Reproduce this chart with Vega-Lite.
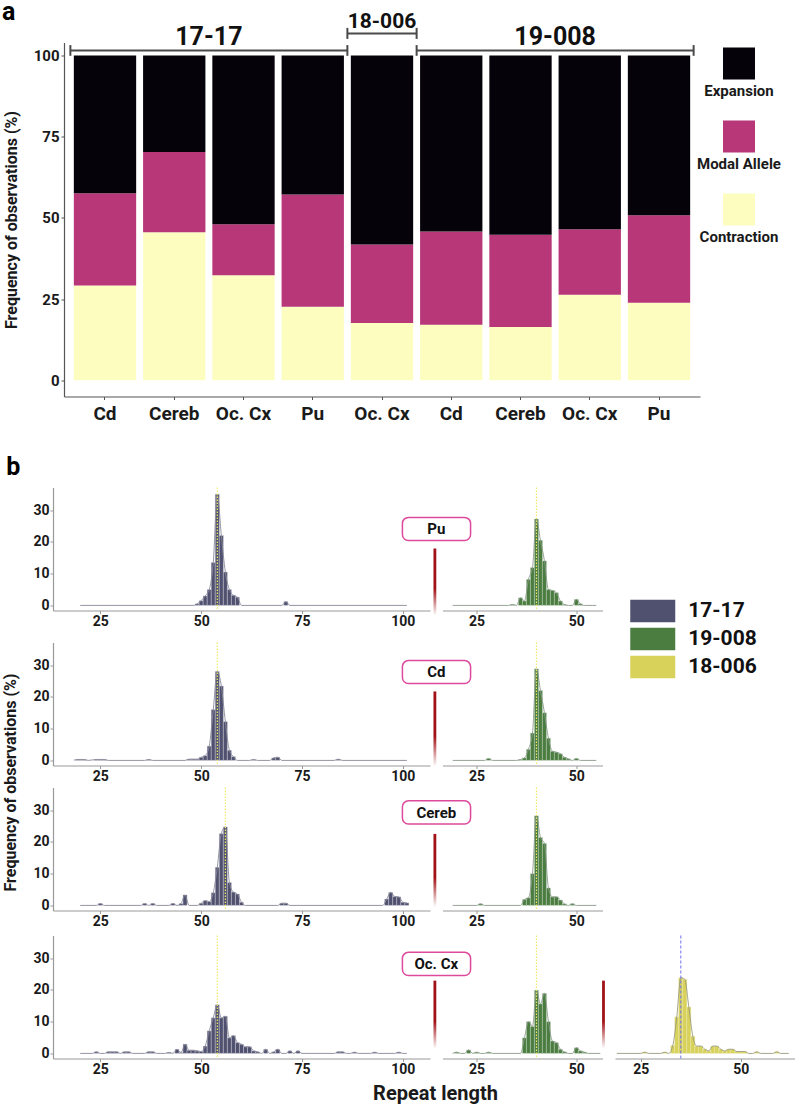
{
"$schema": "https://vega.github.io/schema/vega-lite/v6.json",
"background": "white",
"padding": {"left": 2, "top": -0.5, "right": 0, "bottom": 0},
"spacing": 31,
"resolve": {"scale": {"color": "independent"}, "legend": {"color": "independent"}},
"config": {
  "view": {"stroke": null},
  "font": "Roboto",
  "text": {"font": "Roboto"},
  "axis": {"labelFont": "Roboto", "titleFont": "Roboto", "labelFontWeight": "bold", "titleFontWeight": "bold", "labelColor": "#1a1a1a", "titleColor": "#1a1a1a", "grid": false},
  "legend": {"labelFont": "Roboto"}
},
"datasets": {
  "freq": [
    {"bar":"Cd|17-17","category":"Contraction","level":1,"pct":29.2},
    {"bar":"Cd|17-17","category":"Modal Allele","level":2,"pct":28.4},
    {"bar":"Cd|17-17","category":"Expansion","level":3,"pct":42.4},
    {"bar":"Cereb|17-17","category":"Contraction","level":1,"pct":45.6},
    {"bar":"Cereb|17-17","category":"Modal Allele","level":2,"pct":24.7},
    {"bar":"Cereb|17-17","category":"Expansion","level":3,"pct":29.7},
    {"bar":"Oc. Cx|17-17","category":"Contraction","level":1,"pct":32.3},
    {"bar":"Oc. Cx|17-17","category":"Modal Allele","level":2,"pct":15.7},
    {"bar":"Oc. Cx|17-17","category":"Expansion","level":3,"pct":52.0},
    {"bar":"Pu|17-17","category":"Contraction","level":1,"pct":22.6},
    {"bar":"Pu|17-17","category":"Modal Allele","level":2,"pct":34.6},
    {"bar":"Pu|17-17","category":"Expansion","level":3,"pct":42.8},
    {"bar":"Oc. Cx|18-006","category":"Contraction","level":1,"pct":17.6},
    {"bar":"Oc. Cx|18-006","category":"Modal Allele","level":2,"pct":24.2},
    {"bar":"Oc. Cx|18-006","category":"Expansion","level":3,"pct":58.2},
    {"bar":"Cd|19-008","category":"Contraction","level":1,"pct":17.1},
    {"bar":"Cd|19-008","category":"Modal Allele","level":2,"pct":28.7},
    {"bar":"Cd|19-008","category":"Expansion","level":3,"pct":54.2},
    {"bar":"Cereb|19-008","category":"Contraction","level":1,"pct":16.4},
    {"bar":"Cereb|19-008","category":"Modal Allele","level":2,"pct":28.4},
    {"bar":"Cereb|19-008","category":"Expansion","level":3,"pct":55.2},
    {"bar":"Oc. Cx|19-008","category":"Contraction","level":1,"pct":26.3},
    {"bar":"Oc. Cx|19-008","category":"Modal Allele","level":2,"pct":20.2},
    {"bar":"Oc. Cx|19-008","category":"Expansion","level":3,"pct":53.5},
    {"bar":"Pu|19-008","category":"Contraction","level":1,"pct":23.9},
    {"bar":"Pu|19-008","category":"Modal Allele","level":2,"pct":26.9},
    {"bar":"Pu|19-008","category":"Expansion","level":3,"pct":49.2}
  ],
  "groups": [
    {"group":"17-17","edge":0},{"group":"17-17","edge":4},
    {"group":"18-006","edge":4},{"group":"18-006","edge":5},
    {"group":"19-008","edge":5},{"group":"19-008","edge":9}
  ],
  "pu1717": [{"len":20,"pct":0},{"len":48,"pct":0},{"len":49,"pct":0.5},{"len":50,"pct":1.5},{"len":51,"pct":3},{"len":52,"pct":5},{"len":53,"pct":13.5},{"len":54,"pct":35},{"len":55,"pct":22},{"len":56,"pct":10.5},{"len":57,"pct":5},{"len":58,"pct":3.2},{"len":59,"pct":2.6},{"len":60,"pct":0},{"len":70,"pct":0},{"len":71,"pct":1.2},{"len":72,"pct":0},{"len":101,"pct":0}],
  "cd1717": [{"len":19,"pct":0.3},{"len":20,"pct":0.3},{"len":21,"pct":0.3},{"len":22,"pct":0},{"len":24,"pct":0.3},{"len":25,"pct":0.3},{"len":26,"pct":0.3},{"len":27,"pct":0},{"len":36,"pct":0},{"len":37,"pct":0.3},{"len":38,"pct":0},{"len":46,"pct":0},{"len":47,"pct":0.4},{"len":48,"pct":0.4},{"len":49,"pct":0.4},{"len":50,"pct":1},{"len":51,"pct":1.5},{"len":52,"pct":4.5},{"len":53,"pct":16},{"len":54,"pct":28},{"len":55,"pct":23.4},{"len":56,"pct":12.2},{"len":57,"pct":3.2},{"len":58,"pct":1.2},{"len":59,"pct":0},{"len":62,"pct":0},{"len":63,"pct":0.3},{"len":64,"pct":0},{"len":67,"pct":0},{"len":68,"pct":0.8},{"len":69,"pct":1},{"len":70,"pct":0},{"len":83,"pct":0},{"len":84,"pct":0.4},{"len":85,"pct":0},{"len":101,"pct":0}],
  "cereb1717": [{"len":20,"pct":0},{"len":24,"pct":0},{"len":25,"pct":0.6},{"len":26,"pct":0},{"len":35,"pct":0},{"len":36,"pct":0.6},{"len":37,"pct":0},{"len":38,"pct":0.6},{"len":39,"pct":0},{"len":42,"pct":0},{"len":43,"pct":0.6},{"len":44,"pct":0},{"len":45,"pct":0.6},{"len":46,"pct":3.3},{"len":47,"pct":0},{"len":49,"pct":0},{"len":50,"pct":0.7},{"len":51,"pct":1.5},{"len":52,"pct":1.2},{"len":53,"pct":4},{"len":54,"pct":12},{"len":55,"pct":22.6},{"len":56,"pct":24.7},{"len":57,"pct":7.2},{"len":58,"pct":4.2},{"len":59,"pct":3.6},{"len":60,"pct":1},{"len":61,"pct":0},{"len":69,"pct":0},{"len":70,"pct":0.7},{"len":71,"pct":0.7},{"len":72,"pct":0},{"len":95,"pct":0},{"len":96,"pct":2},{"len":97,"pct":4.1},{"len":98,"pct":2.8},{"len":99,"pct":2.7},{"len":100,"pct":1},{"len":101,"pct":0.8}],
  "occx1717": [{"len":20,"pct":0},{"len":23,"pct":0},{"len":24,"pct":0.5},{"len":25,"pct":0},{"len":26,"pct":0},{"len":27,"pct":0.5},{"len":28,"pct":0.5},{"len":29,"pct":0.5},{"len":30,"pct":0},{"len":31,"pct":0.5},{"len":32,"pct":0.5},{"len":33,"pct":0},{"len":36,"pct":0},{"len":37,"pct":0.5},{"len":38,"pct":0.5},{"len":39,"pct":0},{"len":41,"pct":0},{"len":42,"pct":0.3},{"len":43,"pct":0},{"len":44,"pct":1.3},{"len":45,"pct":0.3},{"len":46,"pct":2.9},{"len":47,"pct":1},{"len":48,"pct":1},{"len":49,"pct":0.8},{"len":50,"pct":0.6},{"len":51,"pct":2.3},{"len":52,"pct":7.1},{"len":53,"pct":11.2},{"len":54,"pct":15.3},{"len":55,"pct":11.2},{"len":56,"pct":11.7},{"len":57,"pct":4.9},{"len":58,"pct":5.6},{"len":59,"pct":3.4},{"len":60,"pct":2.9},{"len":61,"pct":2.1},{"len":62,"pct":2.1},{"len":63,"pct":0.8},{"len":64,"pct":0.5},{"len":65,"pct":0},{"len":66,"pct":1.3},{"len":67,"pct":0},{"len":68,"pct":0.5},{"len":69,"pct":1.3},{"len":70,"pct":0},{"len":71,"pct":0},{"len":72,"pct":0.8},{"len":73,"pct":0},{"len":74,"pct":0.8},{"len":75,"pct":0},{"len":83,"pct":0},{"len":84,"pct":0.5},{"len":85,"pct":0.5},{"len":86,"pct":0},{"len":87,"pct":0},{"len":88,"pct":0.4},{"len":89,"pct":0},{"len":92,"pct":0},{"len":93,"pct":0.4},{"len":94,"pct":0},{"len":98,"pct":0},{"len":99,"pct":0.4},{"len":100,"pct":0},{"len":101,"pct":0}],
  "pu19008": [{"len":19,"pct":0},{"len":33,"pct":0},{"len":34,"pct":0.3},{"len":35,"pct":0},{"len":36,"pct":2.4},{"len":37,"pct":1.4},{"len":38,"pct":8.2},{"len":39,"pct":11.9},{"len":40,"pct":27.2},{"len":41,"pct":20.5},{"len":42,"pct":14},{"len":43,"pct":5},{"len":44,"pct":4.7},{"len":45,"pct":4},{"len":46,"pct":1.4},{"len":47,"pct":0.3},{"len":48,"pct":0},{"len":49,"pct":0},{"len":50,"pct":1.9},{"len":51,"pct":0.5},{"len":52,"pct":0},{"len":55,"pct":0}],
  "cd19008": [{"len":19,"pct":0},{"len":27,"pct":0},{"len":28,"pct":0.6},{"len":29,"pct":0},{"len":35,"pct":0},{"len":36,"pct":0.3},{"len":37,"pct":0.8},{"len":38,"pct":3.5},{"len":39,"pct":8.6},{"len":40,"pct":28.8},{"len":41,"pct":22},{"len":42,"pct":15},{"len":43,"pct":7},{"len":44,"pct":2.9},{"len":45,"pct":2.6},{"len":46,"pct":2.1},{"len":47,"pct":1},{"len":48,"pct":0.5},{"len":49,"pct":0},{"len":50,"pct":0.6},{"len":51,"pct":0},{"len":55,"pct":0}],
  "cereb19008": [{"len":19,"pct":0},{"len":25,"pct":0},{"len":26,"pct":0.5},{"len":27,"pct":0},{"len":36,"pct":0},{"len":37,"pct":1.9},{"len":38,"pct":2.4},{"len":39,"pct":10},{"len":40,"pct":28.2},{"len":41,"pct":21.4},{"len":42,"pct":19.5},{"len":43,"pct":5.5},{"len":44,"pct":2.7},{"len":45,"pct":2.7},{"len":46,"pct":1.7},{"len":47,"pct":0.5},{"len":48,"pct":0},{"len":49,"pct":0.5},{"len":50,"pct":0},{"len":55,"pct":0}],
  "occx19008": [{"len":19,"pct":0},{"len":20,"pct":0.4},{"len":21,"pct":0},{"len":22,"pct":0},{"len":23,"pct":1.1},{"len":24,"pct":0},{"len":25,"pct":0.4},{"len":26,"pct":0},{"len":27,"pct":0},{"len":28,"pct":0.4},{"len":29,"pct":0},{"len":36,"pct":0},{"len":37,"pct":4.9},{"len":38,"pct":10},{"len":39,"pct":8.5},{"len":40,"pct":19.9},{"len":41,"pct":15.6},{"len":42,"pct":18.9},{"len":43,"pct":10},{"len":44,"pct":3.9},{"len":45,"pct":3.4},{"len":46,"pct":1.3},{"len":47,"pct":0.5},{"len":48,"pct":0},{"len":49,"pct":0},{"len":50,"pct":1.8},{"len":51,"pct":0.8},{"len":52,"pct":0.4},{"len":53,"pct":0},{"len":56,"pct":0}],
  "occx18006": [{"len":19,"pct":0},{"len":25,"pct":0},{"len":26,"pct":0.4},{"len":27,"pct":0},{"len":30,"pct":0},{"len":31,"pct":0.4},{"len":32,"pct":0},{"len":33,"pct":2.5},{"len":34,"pct":11.5},{"len":35,"pct":23.8},{"len":36,"pct":23.3},{"len":37,"pct":14.6},{"len":38,"pct":5.4},{"len":39,"pct":2.3},{"len":40,"pct":2.3},{"len":41,"pct":1.3},{"len":42,"pct":0.8},{"len":43,"pct":2.3},{"len":44,"pct":2.3},{"len":45,"pct":1.3},{"len":46,"pct":0.8},{"len":47,"pct":1.3},{"len":48,"pct":1.3},{"len":49,"pct":0.6},{"len":50,"pct":0.6},{"len":51,"pct":0.6},{"len":52,"pct":0},{"len":53,"pct":0},{"len":54,"pct":0.5},{"len":55,"pct":0},{"len":58,"pct":0},{"len":59,"pct":0.5},{"len":60,"pct":0},{"len":62,"pct":0}]
},
"vconcat": [
 {
  "spacing": 0, "bounds": "flush",
  "resolve": {"scale": {"color": "independent"}, "legend": {"color": "independent"}},
  "hconcat": [
   {"width": 11, "height": 10, "data": {"values": []}, "mark": "point"},
   {
    "width": 636, "height": 354,
    "resolve": {"scale": {"x": "independent"}},
    "layer": [
     {
      "data": {"name": "freq"},
      "mark": {"type": "bar"},
      "encoding": {
        "x": {"field": "bar", "type": "nominal", "sort": null,
              "scale": {"paddingInner": 0.1, "paddingOuter": 0.142},
              "axis": {"title": null, "labelExpr": "split(datum.label, '|')[0]", "labelAngle": 0, "labelFontSize": 19, "labelPadding": 5, "tickSize": 3, "domainColor": "#555", "tickColor": "#555", "domainWidth": 1.2}},
        "y": {"field": "pct", "type": "quantitative", "stack": "zero",
              "scale": {"domain": [-5, 104], "nice": false, "zero": false},
              "axis": {"values": [0, 25, 50, 75, 100], "title": "Frequency of observations (%)", "titleFontSize": 16, "titlePadding": 14, "labelFontSize": 15, "labelPadding": 2, "tickSize": 3, "domainColor": "#555", "tickColor": "#555", "domainWidth": 1.2}},
        "color": {"field": "category", "type": "nominal",
                  "scale": {"domain": ["Expansion", "Modal Allele", "Contraction"], "range": ["#050309", "#b73779", "#fcfdbf"]},
                  "legend": {"orient": "none", "legendX": 659, "legendY": 5, "title": null, "padding": 0, "symbolType": "square", "symbolSize": 1024, "symbolStrokeWidth": 0, "symbolOpacity": 1, "labelFontSize": 15, "labelFontWeight": "bold", "labelColor": "#1a1a1a", "labelAlign": "center", "labelOffset": -16, "rowPadding": 22, "labelLimit": 200, "encode": {"labels": {"update": {"dy": {"value": 27}}}}}},
        "order": {"field": "level", "type": "quantitative", "sort": "ascending"}
      }
     },
     {
      "data": {"name": "groups"},
      "layer": [
       {"transform": [{"filter": "datum.group != '18-006'"}],
        "mark": {"type": "rule", "color": "#4a4a4a", "strokeWidth": 2},
        "encoding": {"x": {"aggregate": "min", "field": "edge", "type": "quantitative", "scale": {"domain": [-0.092, 9.092], "nice": false, "zero": false}, "axis": null},
                     "x2": {"aggregate": "max", "field": "edge"},
                     "y": {"datum": 101.5},
                     "detail": {"field": "group", "type": "nominal"}}},
       {"transform": [{"filter": "datum.group != '18-006'"}],
        "mark": {"type": "rule", "color": "#4a4a4a", "strokeWidth": 2},
        "encoding": {"x": {"field": "edge", "type": "quantitative"}, "y": {"datum": 99.9}, "y2": {"datum": 103.2}}},
       {"transform": [{"filter": "datum.group != '18-006'"}],
        "mark": {"type": "text", "fontSize": 25, "fontWeight": "bold", "baseline": "alphabetic", "color": "#111"},
        "encoding": {"x": {"aggregate": "mean", "field": "edge", "type": "quantitative"}, "y": {"datum": 103.2}, "text": {"field": "group", "type": "nominal"}}},
       {"transform": [{"filter": "datum.group == '18-006'"}],
        "mark": {"type": "rule", "color": "#4a4a4a", "strokeWidth": 2},
        "encoding": {"x": {"aggregate": "min", "field": "edge", "type": "quantitative"},
                     "x2": {"aggregate": "max", "field": "edge"},
                     "y": {"datum": 106.8},
                     "detail": {"field": "group", "type": "nominal"}}},
       {"transform": [{"filter": "datum.group == '18-006'"}],
        "mark": {"type": "rule", "color": "#4a4a4a", "strokeWidth": 2},
        "encoding": {"x": {"field": "edge", "type": "quantitative"}, "y": {"datum": 105.1}, "y2": {"datum": 108.5}}},
       {"transform": [{"filter": "datum.group == '18-006'"}],
        "mark": {"type": "text", "fontSize": 21, "fontWeight": "bold", "baseline": "alphabetic", "color": "#111"},
        "encoding": {"x": {"aggregate": "mean", "field": "edge", "type": "quantitative"}, "y": {"datum": 108.4}, "text": {"field": "group", "type": "nominal"}}},
       {"data": {"values": [{}]},
        "mark": {"type": "text", "fontSize": 25, "fontWeight": "bold", "align": "left", "baseline": "alphabetic", "color": "#000"},
        "encoding": {"x": {"datum": -0.987}, "y": {"datum": 110.94}, "text": {"value": "a"}}}
      ]
     }
    ]
   }
  ]
 },
 {
  "columns": 3, "align": "each", "bounds": "flush",
  "spacing": {"row": 22, "column": 12.5},
  "concat": [
     {
      "width": 377, "height": 123,
      "layer": [
       {"data": {"name": "pu1717"}, "transform": [{"filter": "datum.pct > 0"}],
        "mark": {"type": "bar", "width": 4.1, "stroke": "#dcdce6", "strokeWidth": 0.4},
        "encoding": {
          "x": {"field": "len", "type": "quantitative", "scale": {"domain": [14.5, 105.5], "nice": false, "zero": false}, "axis": {"values": [25, 50, 75, 100], "title": null, "labelFontSize": 14, "tickSize": 3, "labelPadding": 1, "domainColor": "#999", "tickColor": "#999", "domainWidth": 1.2}},
          "y": {"field": "pct", "type": "quantitative", "scale": {"domain": [-1.6, 37.1], "nice": false, "zero": false}, "axis": {"values": [0, 10, 20, 30], "title": null, "labelFontSize": 14, "tickSize": 3, "labelPadding": 1, "domainColor": "#999", "tickColor": "#999", "domainWidth": 1.2}},
          "color": {"datum": "17-17", "type": "nominal", "scale": {"domain": ["17-17", "19-008", "18-006"], "range": ["#50516f", "#4b7d41", "#d8d25a"]},
                    "legend": {"orient": "none", "legendX": 588.25, "legendY": 112, "title": null, "padding": 0, "symbolType": "M-2,-1H2V1H-2Z", "symbolSize": 506, "symbolStrokeWidth": 0, "symbolOpacity": 1, "labelFontSize": 21, "labelFontWeight": "bold", "labelColor": "#111", "labelOffset": 24, "rowPadding": 5}}
        }},
       {"data": {"name": "pu1717"}, "mark": {"type": "line", "interpolate": "monotone", "color": "#8a8a9a", "strokeWidth": 0.9},
        "encoding": {"x": {"field": "len", "type": "quantitative"}, "y": {"field": "pct", "type": "quantitative"}}},
       {"data": {"values": [{}]}, "mark": {"type": "rule", "color": "#eeea66", "strokeDash": [1.5, 1.5], "strokeWidth": 1.2}, "encoding": {"x": {"datum": 54}}},
       {"data": {"values": [{}]}, "mark": {"type": "rect", "cornerRadius": 6, "fill": "white", "stroke": "#dd4a9c", "strokeWidth": 1.5},
        "encoding": {"x": {"datum": 99.9}, "x2": {"datum": 116.8}, "y": {"datum": 27.7}, "y2": {"datum": 20.4}}},
       {"data": {"values": [{}]}, "mark": {"type": "text", "fontSize": 15, "fontWeight": "bold", "color": "#111"},
        "encoding": {"x": {"datum": 108.3}, "y": {"datum": 24.0}, "text": {"value": "Pu"}}},
       {"data": {"values": [{}]}, "mark": {"type": "rect", "fill": {"gradient": "linear", "x1": 0, "y1": 0, "x2": 0, "y2": 1, "stops": [{"offset": 0, "color": "#a11217"}, {"offset": 0.6, "color": "#a11217"}, {"offset": 1, "color": "#ffffff"}]}},
        "encoding": {"x": {"datum": 107.6}, "x2": {"datum": 108.3}, "y": {"datum": 17.9}, "y2": {"datum": -3.2}}},
       {"data": {"values": [{}]}, "mark": {"type": "text", "fontSize": 25, "fontWeight": "bold", "align": "left", "baseline": "alphabetic", "color": "#000"},
        "encoding": {"x": {"datum": 1.69}, "y": {"datum": 40.9}, "text": {"value": "b"}}}
      ]
     },
     {
      "width": 160, "height": 123,
      "layer": [
       {"data": {"name": "pu19008"}, "transform": [{"filter": "datum.pct > 0"}],
        "mark": {"type": "bar", "width": 4.2, "stroke": "#dce6dc", "strokeWidth": 0.4},
        "encoding": {
          "x": {"field": "len", "type": "quantitative", "scale": {"domain": [17.7, 55.3], "nice": false, "zero": false}, "axis": {"values": [25, 50], "title": null, "labelFontSize": 14, "tickSize": 3, "labelPadding": 1, "domainColor": "#999", "tickColor": "#999", "domainWidth": 1.2}},
          "y": {"field": "pct", "type": "quantitative", "scale": {"domain": [-1.6, 37.1], "nice": false, "zero": false}, "axis": null},
          "color": {"datum": "19-008", "type": "nominal", "scale": {"domain": ["17-17", "19-008", "18-006"], "range": ["#50516f", "#4b7d41", "#d8d25a"]}, "legend": null}
        }},
       {"data": {"name": "pu19008"}, "mark": {"type": "line", "interpolate": "monotone", "color": "#8a9a8a", "strokeWidth": 0.9},
        "encoding": {"x": {"field": "len", "type": "quantitative"}, "y": {"field": "pct", "type": "quantitative"}}},
       {"data": {"values": [{}]}, "mark": {"type": "rule", "color": "#eeea66", "strokeDash": [1.5, 1.5], "strokeWidth": 1.2}, "encoding": {"x": {"datum": 40}}}
      ]
     },
     {"width": 180, "height": 133, "data": {"values": []}, "mark": "point"},
     {
      "width": 377, "height": 123,
      "layer": [
       {"data": {"name": "cd1717"}, "transform": [{"filter": "datum.pct > 0"}],
        "mark": {"type": "bar", "width": 4.1, "stroke": "#dcdce6", "strokeWidth": 0.4},
        "encoding": {
          "x": {"field": "len", "type": "quantitative", "scale": {"domain": [14.5, 105.5], "nice": false, "zero": false}, "axis": {"values": [25, 50, 75, 100], "title": null, "labelFontSize": 14, "tickSize": 3, "labelPadding": 1, "domainColor": "#999", "tickColor": "#999", "domainWidth": 1.2}},
          "y": {"field": "pct", "type": "quantitative", "scale": {"domain": [-1.6, 37.1], "nice": false, "zero": false}, "axis": {"values": [0, 10, 20, 30], "title": null, "labelFontSize": 14, "tickSize": 3, "labelPadding": 1, "domainColor": "#999", "tickColor": "#999", "domainWidth": 1.2}},
          "color": {"datum": "17-17", "type": "nominal", "scale": {"domain": ["17-17", "19-008", "18-006"], "range": ["#50516f", "#4b7d41", "#d8d25a"]}, "legend": null}
        }},
       {"data": {"name": "cd1717"}, "mark": {"type": "line", "interpolate": "monotone", "color": "#8a8a9a", "strokeWidth": 0.9},
        "encoding": {"x": {"field": "len", "type": "quantitative"}, "y": {"field": "pct", "type": "quantitative"}}},
       {"data": {"values": [{}]}, "mark": {"type": "rule", "color": "#eeea66", "strokeDash": [1.5, 1.5], "strokeWidth": 1.2}, "encoding": {"x": {"datum": 54}}},
       {"data": {"values": [{}]}, "mark": {"type": "rect", "cornerRadius": 6, "fill": "white", "stroke": "#dd4a9c", "strokeWidth": 1.5},
        "encoding": {"x": {"datum": 99.9}, "x2": {"datum": 116.8}, "y": {"datum": 31.4}, "y2": {"datum": 24.2}}},
       {"data": {"values": [{}]}, "mark": {"type": "text", "fontSize": 15, "fontWeight": "bold", "color": "#111"},
        "encoding": {"x": {"datum": 108.3}, "y": {"datum": 27.8}, "text": {"value": "Cd"}}},
       {"data": {"values": [{}]}, "mark": {"type": "rect", "fill": {"gradient": "linear", "x1": 0, "y1": 0, "x2": 0, "y2": 1, "stops": [{"offset": 0, "color": "#a11217"}, {"offset": 0.6, "color": "#a11217"}, {"offset": 1, "color": "#ffffff"}]}},
        "encoding": {"x": {"datum": 107.6}, "x2": {"datum": 108.3}, "y": {"datum": 21.7}, "y2": {"datum": -1.9}}}
      ]
     },
     {
      "width": 160, "height": 123,
      "layer": [
       {"data": {"name": "cd19008"}, "transform": [{"filter": "datum.pct > 0"}],
        "mark": {"type": "bar", "width": 4.2, "stroke": "#dce6dc", "strokeWidth": 0.4},
        "encoding": {
          "x": {"field": "len", "type": "quantitative", "scale": {"domain": [17.7, 55.3], "nice": false, "zero": false}, "axis": {"values": [25, 50], "title": null, "labelFontSize": 14, "tickSize": 3, "labelPadding": 1, "domainColor": "#999", "tickColor": "#999", "domainWidth": 1.2}},
          "y": {"field": "pct", "type": "quantitative", "scale": {"domain": [-1.6, 37.1], "nice": false, "zero": false}, "axis": null},
          "color": {"datum": "19-008", "type": "nominal", "scale": {"domain": ["17-17", "19-008", "18-006"], "range": ["#50516f", "#4b7d41", "#d8d25a"]}, "legend": null}
        }},
       {"data": {"name": "cd19008"}, "mark": {"type": "line", "interpolate": "monotone", "color": "#8a9a8a", "strokeWidth": 0.9},
        "encoding": {"x": {"field": "len", "type": "quantitative"}, "y": {"field": "pct", "type": "quantitative"}}},
       {"data": {"values": [{}]}, "mark": {"type": "rule", "color": "#eeea66", "strokeDash": [1.5, 1.5], "strokeWidth": 1.2}, "encoding": {"x": {"datum": 40}}}
      ]
     },
     {"width": 180, "height": 123, "data": {"values": []}, "mark": "point"},
     {
      "width": 377, "height": 123,
      "layer": [
       {"data": {"name": "cereb1717"}, "transform": [{"filter": "datum.pct > 0"}],
        "mark": {"type": "bar", "width": 4.1, "stroke": "#dcdce6", "strokeWidth": 0.4},
        "encoding": {
          "x": {"field": "len", "type": "quantitative", "scale": {"domain": [14.5, 105.5], "nice": false, "zero": false}, "axis": {"values": [25, 50, 75, 100], "title": null, "labelFontSize": 14, "tickSize": 3, "labelPadding": 1, "domainColor": "#999", "tickColor": "#999", "domainWidth": 1.2}},
          "y": {"field": "pct", "type": "quantitative", "scale": {"domain": [-1.6, 37.1], "nice": false, "zero": false}, "axis": {"values": [0, 10, 20, 30], "title": "Frequency of observations (%)", "titleFontSize": 16, "titlePadding": 14, "titleY": -5.5, "labelFontSize": 14, "tickSize": 3, "labelPadding": 1, "domainColor": "#999", "tickColor": "#999", "domainWidth": 1.2}},
          "color": {"datum": "17-17", "type": "nominal", "scale": {"domain": ["17-17", "19-008", "18-006"], "range": ["#50516f", "#4b7d41", "#d8d25a"]}, "legend": null}
        }},
       {"data": {"name": "cereb1717"}, "mark": {"type": "line", "interpolate": "monotone", "color": "#8a8a9a", "strokeWidth": 0.9},
        "encoding": {"x": {"field": "len", "type": "quantitative"}, "y": {"field": "pct", "type": "quantitative"}}},
       {"data": {"values": [{}]}, "mark": {"type": "rule", "color": "#eeea66", "strokeDash": [1.5, 1.5], "strokeWidth": 1.2}, "encoding": {"x": {"datum": 56}}},
       {"data": {"values": [{}]}, "mark": {"type": "rect", "cornerRadius": 6, "fill": "white", "stroke": "#dd4a9c", "strokeWidth": 1.5},
        "encoding": {"x": {"datum": 99.9}, "x2": {"datum": 116.8}, "y": {"datum": 32.9}, "y2": {"datum": 25.6}}},
       {"data": {"values": [{}]}, "mark": {"type": "text", "fontSize": 15, "fontWeight": "bold", "color": "#111"},
        "encoding": {"x": {"datum": 108.3}, "y": {"datum": 29.2}, "text": {"value": "Cereb"}}},
       {"data": {"values": [{}]}, "mark": {"type": "rect", "fill": {"gradient": "linear", "x1": 0, "y1": 0, "x2": 0, "y2": 1, "stops": [{"offset": 0, "color": "#a11217"}, {"offset": 0.6, "color": "#a11217"}, {"offset": 1, "color": "#ffffff"}]}},
        "encoding": {"x": {"datum": 107.6}, "x2": {"datum": 108.3}, "y": {"datum": 22.5}, "y2": {"datum": -0.5}}}
      ]
     },
     {
      "width": 160, "height": 123,
      "layer": [
       {"data": {"name": "cereb19008"}, "transform": [{"filter": "datum.pct > 0"}],
        "mark": {"type": "bar", "width": 4.2, "stroke": "#dce6dc", "strokeWidth": 0.4},
        "encoding": {
          "x": {"field": "len", "type": "quantitative", "scale": {"domain": [17.7, 55.3], "nice": false, "zero": false}, "axis": {"values": [25, 50], "title": null, "labelFontSize": 14, "tickSize": 3, "labelPadding": 1, "domainColor": "#999", "tickColor": "#999", "domainWidth": 1.2}},
          "y": {"field": "pct", "type": "quantitative", "scale": {"domain": [-1.6, 37.1], "nice": false, "zero": false}, "axis": null},
          "color": {"datum": "19-008", "type": "nominal", "scale": {"domain": ["17-17", "19-008", "18-006"], "range": ["#50516f", "#4b7d41", "#d8d25a"]}, "legend": null}
        }},
       {"data": {"name": "cereb19008"}, "mark": {"type": "line", "interpolate": "monotone", "color": "#8a9a8a", "strokeWidth": 0.9},
        "encoding": {"x": {"field": "len", "type": "quantitative"}, "y": {"field": "pct", "type": "quantitative"}}},
       {"data": {"values": [{}]}, "mark": {"type": "rule", "color": "#eeea66", "strokeDash": [1.5, 1.5], "strokeWidth": 1.2}, "encoding": {"x": {"datum": 40}}}
      ]
     },
     {"width": 180, "height": 126, "data": {"values": []}, "mark": "point"},
     {
      "width": 377, "height": 123,
      "layer": [
       {"data": {"name": "occx1717"}, "transform": [{"filter": "datum.pct > 0"}],
        "mark": {"type": "bar", "width": 4.1, "stroke": "#dcdce6", "strokeWidth": 0.4},
        "encoding": {
          "x": {"field": "len", "type": "quantitative", "scale": {"domain": [14.5, 105.5], "nice": false, "zero": false}, "axis": {"values": [25, 50, 75, 100], "title": "Repeat length", "titleFontSize": 20, "titleX": 382, "titleY": 35, "titleAlign": "center", "titleBaseline": "middle", "labelFontSize": 14, "tickSize": 3, "labelPadding": 1, "domainColor": "#999", "tickColor": "#999", "domainWidth": 1.2}},
          "y": {"field": "pct", "type": "quantitative", "scale": {"domain": [-1.6, 37.1], "nice": false, "zero": false}, "axis": {"values": [0, 10, 20, 30], "title": null, "labelFontSize": 14, "tickSize": 3, "labelPadding": 1, "domainColor": "#999", "tickColor": "#999", "domainWidth": 1.2}},
          "color": {"datum": "17-17", "type": "nominal", "scale": {"domain": ["17-17", "19-008", "18-006"], "range": ["#50516f", "#4b7d41", "#d8d25a"]}, "legend": null}
        }},
       {"data": {"name": "occx1717"}, "mark": {"type": "line", "interpolate": "monotone", "color": "#8a8a9a", "strokeWidth": 0.9},
        "encoding": {"x": {"field": "len", "type": "quantitative"}, "y": {"field": "pct", "type": "quantitative"}}},
       {"data": {"values": [{}]}, "mark": {"type": "rule", "color": "#eeea66", "strokeDash": [1.5, 1.5], "strokeWidth": 1.2}, "encoding": {"x": {"datum": 54}}},
       {"data": {"values": [{}]}, "mark": {"type": "rect", "cornerRadius": 6, "fill": "white", "stroke": "#dd4a9c", "strokeWidth": 1.5},
        "encoding": {"x": {"datum": 99.9}, "x2": {"datum": 116.8}, "y": {"datum": 31.8}, "y2": {"datum": 24.5}}},
       {"data": {"values": [{}]}, "mark": {"type": "text", "fontSize": 15, "fontWeight": "bold", "color": "#111"},
        "encoding": {"x": {"datum": 108.3}, "y": {"datum": 28.2}, "text": {"value": "Oc. Cx"}}},
       {"data": {"values": [{}]}, "mark": {"type": "rect", "fill": {"gradient": "linear", "x1": 0, "y1": 0, "x2": 0, "y2": 1, "stops": [{"offset": 0, "color": "#a11217"}, {"offset": 0.6, "color": "#a11217"}, {"offset": 1, "color": "#ffffff"}]}},
        "encoding": {"x": {"datum": 107.6}, "x2": {"datum": 108.3}, "y": {"datum": 22.9}, "y2": {"datum": 1.5}}}
      ]
     },
     {
      "width": 160, "height": 123,
      "layer": [
       {"data": {"name": "occx19008"}, "transform": [{"filter": "datum.pct > 0"}],
        "mark": {"type": "bar", "width": 4.2, "stroke": "#dce6dc", "strokeWidth": 0.4},
        "encoding": {
          "x": {"field": "len", "type": "quantitative", "scale": {"domain": [17.7, 55.3], "nice": false, "zero": false}, "axis": {"values": [25, 50], "title": null, "labelFontSize": 14, "tickSize": 3, "labelPadding": 1, "domainColor": "#999", "tickColor": "#999", "domainWidth": 1.2}},
          "y": {"field": "pct", "type": "quantitative", "scale": {"domain": [-1.6, 37.1], "nice": false, "zero": false}, "axis": null},
          "color": {"datum": "19-008", "type": "nominal", "scale": {"domain": ["17-17", "19-008", "18-006"], "range": ["#50516f", "#4b7d41", "#d8d25a"]}, "legend": null}
        }},
       {"data": {"name": "occx19008"}, "mark": {"type": "line", "interpolate": "monotone", "color": "#8a9a8a", "strokeWidth": 0.9},
        "encoding": {"x": {"field": "len", "type": "quantitative"}, "y": {"field": "pct", "type": "quantitative"}}},
       {"data": {"values": [{}]}, "mark": {"type": "rule", "color": "#eeea66", "strokeDash": [1.5, 1.5], "strokeWidth": 1.2}, "encoding": {"x": {"datum": 40}}},
       {"data": {"values": [{}]}, "mark": {"type": "rect", "fill": {"gradient": "linear", "x1": 0, "y1": 0, "x2": 0, "y2": 1, "stops": [{"offset": 0, "color": "#a11217"}, {"offset": 0.6, "color": "#a11217"}, {"offset": 1, "color": "#ffffff"}]}},
        "encoding": {"x": {"datum": 56.45}, "x2": {"datum": 57.15}, "y": {"datum": 22.9}, "y2": {"datum": 1.5}}}
      ]
     },
     {
      "width": 180, "height": 123,
      "layer": [
       {"data": {"name": "occx18006"}, "transform": [{"filter": "datum.pct > 0"}],
        "mark": {"type": "bar", "width": 4.2, "stroke": "#eeeecc", "strokeWidth": 0.4},
        "encoding": {
          "x": {"field": "len", "type": "quantitative", "scale": {"domain": [19.8, 62.3], "nice": false, "zero": false}, "axis": {"values": [25, 50], "title": null, "labelFontSize": 14, "tickSize": 3, "labelPadding": 1, "domainColor": "#999", "tickColor": "#999", "domainWidth": 1.2}},
          "y": {"field": "pct", "type": "quantitative", "scale": {"domain": [-1.6, 37.1], "nice": false, "zero": false}, "axis": null},
          "color": {"datum": "18-006", "type": "nominal", "scale": {"domain": ["17-17", "19-008", "18-006"], "range": ["#50516f", "#4b7d41", "#d8d25a"]}, "legend": null}
        }},
       {"data": {"name": "occx18006"}, "mark": {"type": "line", "interpolate": "monotone", "color": "#9a9a80", "strokeWidth": 0.9},
        "encoding": {"x": {"field": "len", "type": "quantitative"}, "y": {"field": "pct", "type": "quantitative"}}},
       {"data": {"values": [{}]}, "mark": {"type": "rule", "color": "#6f6ff0", "strokeDash": [3, 2], "strokeWidth": 1}, "encoding": {"x": {"datum": 35}}}
      ]
     }
  ]
 }
]
}
